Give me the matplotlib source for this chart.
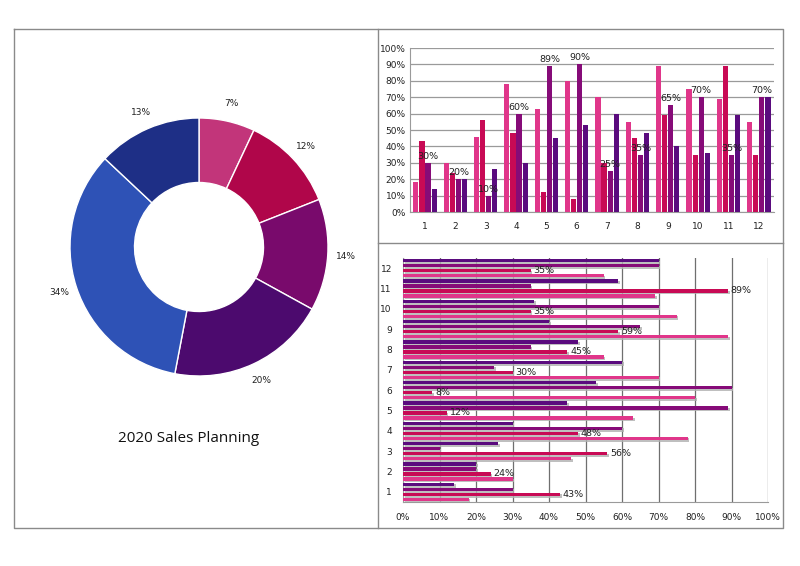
import matplotlib
matplotlib.use('Agg')
import matplotlib.pyplot as plt
import matplotlib.patheffects as pe
import numpy as np

# ---- data ----
groups = [str(i) for i in range(1, 13)]
series_a = [18, 30, 46, 78, 63, 80, 70, 55, 89, 75, 69, 55]   # pink
series_b = [43, 24, 56, 48, 12, 8, 30, 45, 59, 35, 89, 35]    # crimson
series_c = [30, 20, 10, 60, 89, 90, 25, 35, 65, 70, 35, 70]   # purple
series_d = [14, 20, 26, 30, 45, 53, 60, 48, 40, 36, 59, 70]   # dark purple

donut_values = [7, 12, 14, 20, 34, 13]
donut_labels = ['7%', '12%', '14%', '20%', '34%', '13%']
title = '2020 Sales Planning'
pct_ticks = [0, 10, 20, 30, 40, 50, 60, 70, 80, 90, 100]

series_colors = ['#E0368A', '#C80A55', '#860B78', '#5A0B7E']
donut_colors = ['#C2357A', '#B0064A', '#790A6C', '#4C0A6E', '#2E52B6', '#1E2F86']

W, H = 800, 566
fig = plt.figure(figsize=(8, 5.66), dpi=100)


def ax_px(l, t, r, b, **kw):
    return fig.add_axes([l / W, 1 - b / H, (r - l) / W, (b - t) / H], **kw)


# ---- background frame ----
bg = ax_px(0, 0, W, H)
bg.set_xlim(0, W)
bg.set_ylim(H, 0)
bg.axis('off')
bg.plot([14, 783, 783, 14, 14], [29, 29, 528, 528, 29], color='#8a8a8a', lw=1)
bg.plot([378, 378], [29, 528], color='#8a8a8a', lw=1)
bg.plot([378, 783], [243, 243], color='#8a8a8a', lw=1)

# ---- donut ----
cx, cy, R = 199, 247, 129
half = 150
axd = ax_px(cx - half, cy - half, cx + half, cy + half)
wedges, texts = axd.pie(donut_values, labels=donut_labels, colors=donut_colors,
                        startangle=90, counterclock=False, radius=1.0,
                        labeldistance=1.14,
                        wedgeprops=dict(width=0.5, edgecolor='white', linewidth=1),
                        textprops=dict(fontsize=6.5, color='#222222'))
for t in texts:
    t.set_ha('center')
    t.set_va('center')
axd.set_xlim(-half / R, half / R)
axd.set_ylim(-half / R, half / R)
axd.set_aspect('equal')
axd.axis('off')
fig.text(189 / W, 1 - 438 / H, title, ha='center', va='center',
         fontsize=11, family='Open Sans', color='#111111')

# ---- vertical grouped bars ----
axv = ax_px(409.8, 48, 774, 212)
x = np.arange(1, 13)
w = 0.17
offs = [-0.3, -0.1, 0.1, 0.3]
all_series = [series_a, series_b, series_c, series_d]
for s, o, c in zip(all_series, offs, series_colors):
    axv.bar(x + o, s, width=w, color=c, zorder=3)
for xi, v in zip(x, series_c):
    axv.annotate(f'{v}%', (xi + offs[2], v), xytext=(0, 1.5), textcoords='offset points',
                 ha='center', va='bottom', fontsize=6.8, color='#222222', zorder=4)
axv.set_xlim(0.5, 12.5)
axv.set_ylim(0, 100)
axv.set_yticks(pct_ticks)
axv.set_yticklabels([f'{t}%' for t in pct_ticks])
axv.set_xticks(x)
axv.set_xticklabels(groups)
axv.yaxis.grid(True, color='#9a9a9a', lw=0.9, zorder=0)
for sp in ['top', 'right']:
    axv.spines[sp].set_visible(False)
for sp in ['left', 'bottom']:
    axv.spines[sp].set_color('#9a9a9a')
axv.tick_params(axis='both', length=0, labelsize=6.5, colors='#222222')
axv.tick_params(axis='x', pad=7)
axv.tick_params(axis='y', pad=3)

# ---- horizontal grouped bars ----
axh = ax_px(403, 258, 768, 502)
h = 0.17
hoffs = [-0.37, -0.12, 0.12, 0.37]
shadow = [pe.SimplePatchShadow(offset=(1.2, -1.2), shadow_rgbFace='#b0b0b0', alpha=0.8), pe.Normal()]
for s, o, c in zip(all_series, hoffs, series_colors):
    bars = axh.barh(x + o, s, height=h, color=c, zorder=3)
    for b in bars:
        b.set_path_effects(shadow)
for yi, v in zip(x, series_b):
    axh.annotate(f'{v}%', (v, yi + hoffs[1]), xytext=(2, 0), textcoords='offset points',
                 ha='left', va='center', fontsize=6.8, color='#222222', zorder=4)
axh.set_ylim(0.5, 12.5)
axh.set_xlim(0, 100)
axh.set_xticks(pct_ticks)
axh.set_xticklabels([f'{t}%' for t in pct_ticks])
axh.set_yticks(x)
axh.set_yticklabels(groups)
axh.xaxis.grid(True, color='#6f6f6f', lw=0.9, zorder=0)
for sp in ['top', 'right']:
    axh.spines[sp].set_visible(False)
for sp in ['left', 'bottom']:
    axh.spines[sp].set_color('#9a9a9a')
axh.tick_params(axis='both', length=0, labelsize=6.5, colors='#222222')
axh.tick_params(axis='x', pad=8)
axh.tick_params(axis='y', pad=8)

fig.savefig('out.png', dpi=100, facecolor='white')
